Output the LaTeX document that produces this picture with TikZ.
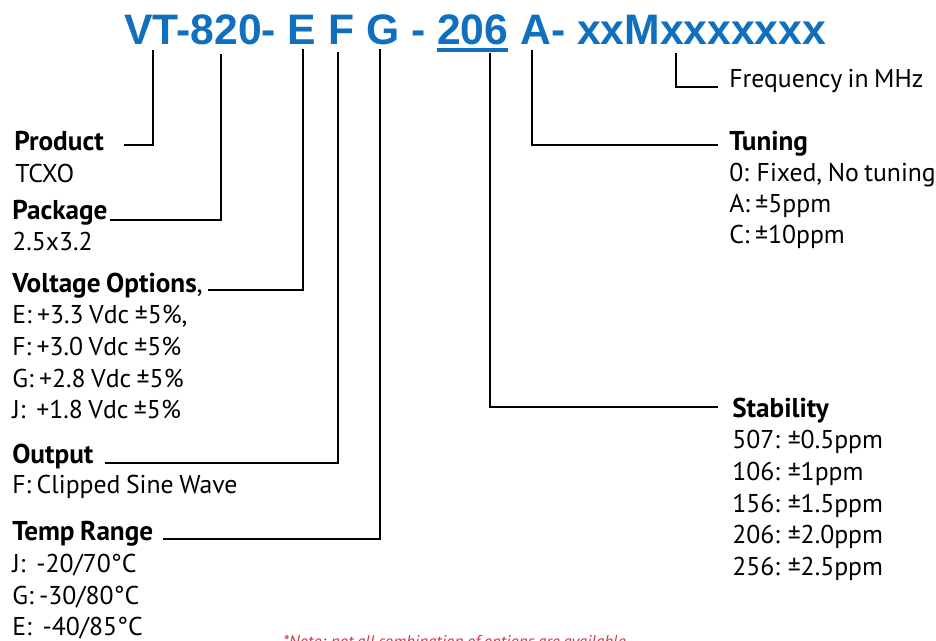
\documentclass[tikz,border=0pt]{standalone}
\usepackage{fontspec}
\usepackage{tikz}
\usetikzlibrary{arrows.meta}
\newfontfamily\labelfont[WordSpace=0.8]{PT Sans}
\newfontfamily\codefont{Liberation Sans}
\definecolor{codeblue}{RGB}{16,112,190}
\definecolor{notered}{RGB}{226,48,64}

\tikzset{
  hdr/.style={anchor=base west, inner sep=0pt, font=\labelfont\fontsize{20.4pt}{24pt}\selectfont\bfseries},
  item/.style={anchor=base west, inner sep=0pt, font=\labelfont\fontsize{19.3pt}{23.6pt}\selectfont},
  leader/.style={line width=1.7pt}
}

\begin{document}
\begin{tikzpicture}[x=0.75pt, y=-0.75pt]
    \clip (0,0) rectangle (936,640);
    \fill[white] (0,0) rectangle (936,640);

    % Part number
    \node[anchor=base west, inner sep=0pt, text=codeblue,
          font=\codefont\fontsize{32pt}{36pt}\selectfont\bfseries] (code) at (124,44)
          {VT-820- E F G - 206 A- xxMxxxxxxx};
    \draw[codeblue, line width=2.8pt] (437,50) -- (508,50);

    % Leader tops under the part number
    \coordinate (tV) at (153,50);
    \coordinate (t8) at (221,54);
    \coordinate (tE) at (303,49);
    \coordinate (tF) at (338,52);
    \coordinate (tG) at (380,49);
    \coordinate (t206) at (490,53);
    \coordinate (tA) at (532,50);
    \coordinate (tM) at (676,53);

    % Product
    \node[hdr] (prod) at (14,150) {Product};
    \node[item] (prod1) at (15,182) {TCXO};
    \draw[leader] ([shift={(20,-5)}]prod.base east) -| (tV);

    % Package
    \node[hdr] (pack) at (12,219) {Package};
    \node[item] (pack1) at (12,250) {2.5x3.2};
    \draw[leader] ([shift={(2,1)}]pack.base east) -| (t8);

    % Voltage
    \node[hdr] (volt) at (12,292) {Voltage Options\mdseries,};
    \node[item] (volt1) at (12,323) {E: +3.3 Vdc ±5\%,};
    \node[item] (volt2) at (12,355) {F: +3.0 Vdc ±5\%};
    \node[item] (volt3) at (12,387) {G: +2.8 Vdc ±5\%};
    \node[item] (volt4) at (12,418) {J:\ \ +1.8 Vdc ±5\%};
    \draw[leader] ([shift={(5,-2)}]volt.base east) -| (tE);

    % Output
    \node[hdr] (outp) at (12,463) {Output};
    \node[item] (outp1) at (12,493) {F: Clipped Sine Wave};
    \draw[leader] ([shift={(11,0)}]outp.base east) -| (tF);

    % Temp range
    \node[hdr] (temp) at (12,540) {Temp Range};
    \node[item] (temp1) at (12,572) {J:\ \ -20/70°C};
    \node[item] (temp2) at (12,604) {G: -30/80°C};
    \node[item] (temp3) at (12,635) {E:\ \ -40/85°C};
    \draw[leader] ([shift={(10,-1)}]temp.base east) -| (tG);

    % Frequency
    \node[item] (freq) at (729,87) {Frequency in MHz};
    \draw[leader] (tM) |- ([shift={(-11,0)}]freq.base west);

    % Tuning
    \node[hdr] (tune) at (729,150) {Tuning};
    \node[item] (tune1) at (729,181) {0: Fixed, No tuning};
    \node[item] (tune2) at (729,212) {A: ±5ppm};
    \node[item] (tune3) at (729,243) {C: ±10ppm};
    \draw[leader] (tA) |- ([shift={(-11,-5)}]tune.base west);

    % Stability
    \node[hdr] (stab) at (732,417) {Stability};
    \node[item] (stab1) at (732,448) {507: ±0.5ppm};
    \node[item] (stab2) at (732,480) {106: ±1ppm};
    \node[item] (stab3) at (732,512) {156: ±1.5ppm};
    \node[item] (stab4) at (732,543) {206: ±2.0ppm};
    \node[item] (stab5) at (732,575) {256: ±2.5ppm};
    \draw[leader] (t206) |- ([shift={(-14,-10)}]stab.base west);

    % Note (cut at the lower edge)
    \node[anchor=base west, inner sep=0pt, text=notered,
          font=\labelfont\fontsize{12.7pt}{14pt}\selectfont\itshape] (note) at (283,647)
          {*Note: not all combination of options are available};
\end{tikzpicture}
\end{document}
